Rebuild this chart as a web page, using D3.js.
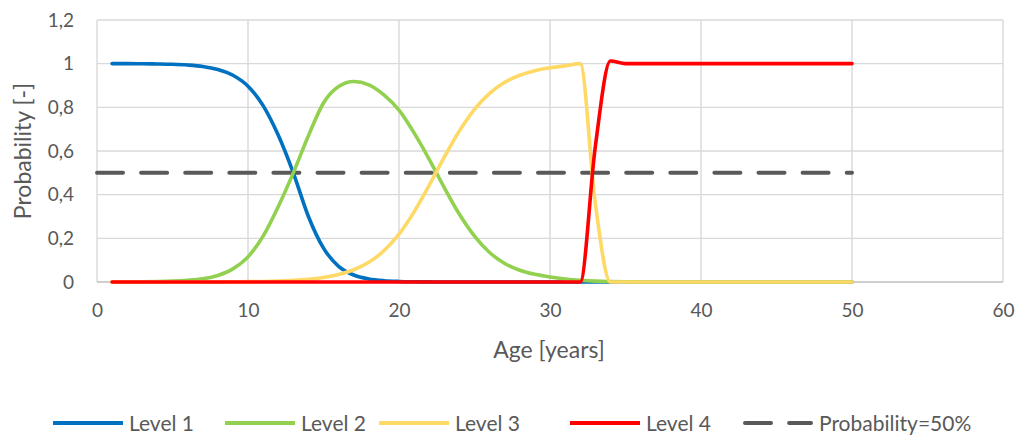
<!DOCTYPE html>
<html><head><meta charset="utf-8">
<script src="https://cdn.jsdelivr.net/npm/d3@7"></script>
<style>
html,body{margin:0;padding:0;background:#fff;}
svg{display:block;font-family:Lato, "Open Sans", sans-serif;}
</style></head>
<body><svg id="chart" width="1019" height="435"></svg>
<script>
const ages = [1,2,3,4,5,6,7,8,9,10,11,12,13,14,15,16,17,18,19,20,21,22,23,24,25,26,27,28,29,30,31,32,33,34,35,36,37,38,39,40,41,42,43,44,45,46,47,48,49,50];
const level1 = [1,1,0.9993,0.9985,0.997,0.9936,0.987,0.973,0.947,0.897,0.808,0.673,0.5,0.3,0.155,0.072,0.032,0.014,0.006,0.0026,0.0011,0.0005,0,0,0,0,0,0,0,0,0,0,0,0,0,0,0,0,0,0,0,0,0,0,0,0,0,0,0,0];
const level2 = [0,0.0005,0.001,0.002,0.004,0.008,0.015,0.03,0.06,0.115,0.21,0.345,0.5,0.67,0.82,0.895,0.918,0.903,0.857,0.787,0.683,0.562,0.432,0.31,0.21,0.135,0.085,0.054,0.035,0.023,0.014,0.008,0.004,0.002,0.001,0,0,0,0,0,0,0,0,0,0,0,0,0,0,0];
const level3 = [0,0,0,0,0,0,0,0,0.0009,0.0015,0.0026,0.0044,0.0073,0.0122,0.0204,0.034,0.056,0.09,0.143,0.219,0.321,0.443,0.572,0.692,0.791,0.864,0.915,0.947,0.968,0.981,0.99,1.0,0.36,0,0,0,0,0,0,0,0,0,0,0,0,0,0,0,0,0];
const level4 = [0,0,0,0,0,0,0,0,0,0,0,0,0,0,0,0,0,0,0,0,0,0,0,0,0,0,0,0,0,0,0,0,0.62,1.012,1,1,1,1,1,1,1,1,1,1,1,1,1,1,1,1];
const refAges = [0,50];
const refValues = [0.5,0.5];
const xTicks = [0,10,20,30,40,50,60];
const yTicks = [0,0.2,0.4,0.6,0.8,1,1.2];
const seriesNames = ["Level 1","Level 2","Level 3","Level 4","Probability=50%"];
const seriesColors = ["#0070C0","#92D050","#FFD966","#FF0000","#595959"];

const svg = d3.select("#chart");
const L = 97, T = 20, W = 906, H = 262;
const x = d3.scaleLinear().domain([0,60]).range([L, L+W]);
const y = d3.scaleLinear().domain([0,1.2]).range([T+H, T]);
const fmt = v => String(v).replace(".", ",");
const txt = "#595959";

// gridlines
svg.append("g").selectAll("line").data(xTicks).join("line")
  .attr("x1", d=>x(d)).attr("x2", d=>x(d)).attr("y1", y(0)).attr("y2", y(1.2))
  .attr("stroke","#d9d9d9").attr("stroke-width",1.4);
svg.append("g").selectAll("line").data(yTicks).join("line")
  .attr("x1", x(0)).attr("x2", x(60)).attr("y1", d=>y(d)).attr("y2", d=>y(d))
  .attr("stroke", d=> d===0 ? "#bfbfbf" : "#d9d9d9").attr("stroke-width",1.4);

// axes
const xAxis = svg.append("g").attr("transform",`translate(0,${y(0)})`)
  .call(d3.axisBottom(x).tickValues(xTicks).tickSize(0).tickPadding(22).tickFormat(fmt));
xAxis.select(".domain").remove();
xAxis.selectAll("text").attr("fill",txt).style("font-size","19px").style("font-family","Lato, 'Open Sans', sans-serif");
const yAxis = svg.append("g").attr("transform",`translate(${L},0)`)
  .call(d3.axisLeft(y).tickValues(yTicks).tickSize(0).tickPadding(23).tickFormat(fmt));
yAxis.select(".domain").remove();
yAxis.selectAll("text").attr("fill",txt).style("font-size","19px").style("font-family","Lato, 'Open Sans', sans-serif");

// axis titles
svg.append("text").attr("x", 549).attr("y", 358).attr("text-anchor","middle")
  .attr("fill",txt).style("font-size","23px").text("Age [years]");
svg.append("text").attr("transform",`translate(31,151) rotate(-90)`).attr("text-anchor","middle")
  .attr("fill",txt).style("font-size","23px").text("Probability [-]");

// lines
const line = d3.line().x(d=>x(d[0])).y(d=>y(d[1])).curve(d3.curveMonotoneX);
svg.append("path").datum(d3.zip(refAges, refValues)).attr("d", d3.line().x(d=>x(d[0])).y(d=>y(d[1])))
  .attr("fill","none").attr("stroke",seriesColors[4]).attr("stroke-width",4)
  .attr("stroke-dasharray","26,18.1").attr("stroke-linecap","round");
const series = [level1, level2, level3, level4];
series.forEach((s,i)=>{
  svg.append("path").datum(d3.zip(ages, s)).attr("d", line)
    .attr("fill","none").attr("stroke",seriesColors[i]).attr("stroke-width",3.6)
    .attr("stroke-linejoin","round").attr("stroke-linecap","round");
});

// legend
const legX = [53, 225, 379, 570, 743];
const legY = 423;
seriesNames.forEach((n,i)=>{
  const g = svg.append("g");
  const ln = g.append("line").attr("x1", legX[i]).attr("x2", legX[i]+70).attr("y1", legY).attr("y2", legY)
    .attr("stroke", seriesColors[i]).attr("stroke-width",4);
  if (i===4) ln.attr("stroke-dasharray","26,18.1").attr("stroke-linecap","round")
    .attr("x1", legX[i]+2).attr("x2", legX[i]+68);
  g.append("text").attr("x", legX[i]+76).attr("y", legY).attr("dy","0.36em")
    .attr("fill",txt).style("font-size","21px").text(n);
});
</script></body></html>
